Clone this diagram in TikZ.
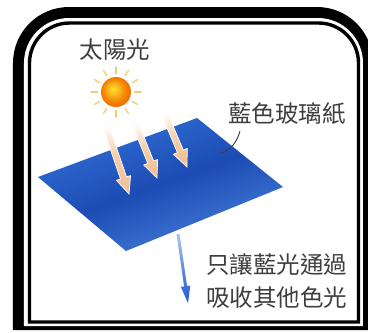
\documentclass[tikz,border=0pt]{standalone}
\usepackage{fontspec}
\newfontfamily\cjk{Noto Sans CJK TC}
\usetikzlibrary{calc}

\definecolor{inkgray}{RGB}{62,62,62}
\definecolor{peach}{RGB}{242,194,150}
\definecolor{sheetlight}{RGB}{50,112,214}
\definecolor{sheetdark}{RGB}{28,76,180}
\definecolor{sunyellow}{RGB}{255,222,50}
\definecolor{sunorange}{RGB}{243,128,0}
\definecolor{raycolor}{RGB}{246,202,110}
\definecolor{passblue}{RGB}{38,92,214}
\definecolor{passpale}{RGB}{165,192,236}

\pgfdeclareradialshading{sunglow}{\pgfpoint{-5bp}{5bp}}{%
  color(0bp)=(sunyellow); color(7bp)=(sunyellow!70!sunorange);
  color(20bp)=(sunorange); color(25bp)=(sunorange!88!red);
  color(50bp)=(sunorange!88!red)}

% thick arrow as a shaded outline:
% #1 tail, #2 tip, #3 half shaft width, #4 half head width, #5 head length, #6 options
\newcommand\beamarrow[6]{%
  \coordinate (ba-n) at ($(#2)!#5!(#1)$);
  \shade[#6] ($(#1)!#3!90:(#2)$) -- ($(ba-n)!#3!90:(#2)$)
    -- ($(ba-n)!#4!90:(#2)$) -- (#2) -- ($(ba-n)!#4!-90:(#2)$)
    -- ($(ba-n)!#3!-90:(#2)$) -- ($(#1)!#3!-90:(#2)$) -- cycle;}

\tikzset{
  label/.style={text=inkgray, font=\cjk\fontsize{23.5pt}{32.5pt}\selectfont,
    inner sep=0pt},
  sunray/.style={raycolor, line width=1.3pt, line cap=round},
  lightbeam/.style={draw=white, line width=0.7pt, top color=white,
    bottom color=peach, middle color=peach!80!white},
  passbeam/.style={top color=passpale, bottom color=passblue},
  leader/.style={inkgray, line width=0.9pt},
}

\begin{document}
\begin{tikzpicture}[x=1pt,y=-1pt]
\useasboundingbox (0,0) rectangle (368,333);
\fill[white] (0,0) rectangle (368,333);

% frame: thick band, rounded at the top, with a thin inner rule
\fill[black] (13,330) -- (13,63) arc[start angle=180,end angle=90,radius=56pt]
  -- (317,7) arc[start angle=90,end angle=0,radius=56pt] -- (373,330) -- cycle;
\fill[white] (24,326) -- (24,63) arc[start angle=180,end angle=90,radius=45pt]
  -- (318,18) arc[start angle=90,end angle=0,radius=45pt] -- (363,326) -- cycle;
\draw[black, line width=3.4pt] (29.5,322) -- (29.5,63)
  arc[start angle=180,end angle=90,radius=40pt] -- (318.5,23)
  arc[start angle=90,end angle=0,radius=40pt] -- (358.5,322) -- cycle;

% sun
\coordinate (sun) at (116,92);
\foreach \a in {0,30,...,330}
  \draw[sunray] ($(sun)+(\a:18.5pt)$) -- ($(sun)+(\a:25pt)$);
\shade[shading=sunglow] (sun) circle[radius=15pt];
\node[label] (sunlabel) at (115,50) {太陽光};

% blue cellophane sheet
\coordinate (s-l) at (38,177);
\coordinate (s-t) at (197,118);
\coordinate (s-r) at (283,187);
\coordinate (s-b) at (126,251);
\shade[left color=sheetlight, right color=sheetlight!90!white,
  middle color=sheetdark, shading angle=20]
  (s-l) -- (s-t) -- (s-r) -- (s-b) -- cycle;

% incoming sunlight
\coordinate (a1-t) at (103,118);
\coordinate (a1-h) at (129,194);
\coordinate (a2-t) at (133,118);
\coordinate (a2-h) at (157,178);
\coordinate (a3-t) at (162,108);
\coordinate (a3-h) at (187,167);
\beamarrow{a1-t}{a1-h}{3.2pt}{7.5pt}{17pt}{lightbeam, shading angle=19}
\beamarrow{a2-t}{a2-h}{3.2pt}{7.5pt}{17pt}{lightbeam, shading angle=22}
\beamarrow{a3-t}{a3-h}{3.2pt}{7.5pt}{17pt}{lightbeam, shading angle=24}

% sheet label with its leader
\node[label] (sheetlabel) at (287,114) {藍色玻璃紙};
\coordinate (lead-a) at (221,153);
\coordinate (lead-b) at (240,131);
\draw[leader] (lead-a) .. controls (231,150) and (237,142) .. (lead-b);

% transmitted blue light
\coordinate (b-t) at (178,234);
\coordinate (b-h) at (188,303);
\beamarrow{b-t}{b-h}{1.5pt}{4.8pt}{17pt}{passbeam, shading angle=8}
\node[label, align=left] (passlabel) at (277,281) {只讓藍光通過\\吸收其他色光};
\end{tikzpicture}
\end{document}
